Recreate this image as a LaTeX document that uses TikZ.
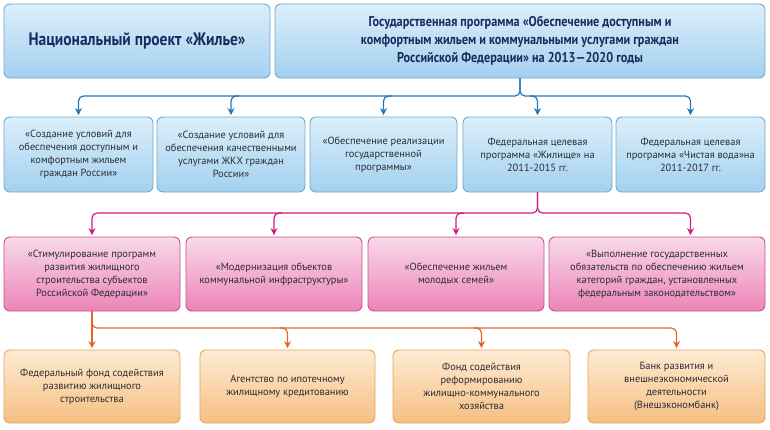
\documentclass[tikz,border=0pt]{standalone}
\usepackage{fontspec}
\setmainfont{PT Sans}
\newfontfamily\headfont[FakeStretch=0.86]{PT Sans}
\usetikzlibrary{arrows.meta,calc}
\definecolor{btop}{HTML}{DCEFFB}
\definecolor{bbot}{HTML}{A3D0EF}
\definecolor{bbord}{HTML}{6FA9CF}
\definecolor{ptop}{HTML}{F9D9EA}
\definecolor{pbot}{HTML}{EC84B7}
\definecolor{pbord}{HTML}{C8508F}
\definecolor{otop}{HTML}{FEEBD2}
\definecolor{obot}{HTML}{F6BF82}
\definecolor{obord}{HTML}{E2A55E}
\definecolor{navy}{HTML}{1B2A5E}
\definecolor{txt}{HTML}{2A2C34}
\definecolor{barblue}{HTML}{2377B8}
\definecolor{barmag}{HTML}{D21C84}
\definecolor{barora}{HTML}{E3642C}
\tikzset{
  box/.style={rounded corners=6pt, line width=0.9pt, align=center, inner sep=2pt,
    font=\fontsize{10.4}{13}\selectfont, text=txt},
  bluebox/.style={box, draw=bbord, top color=btop, bottom color=bbot},
  pinkbox/.style={box, draw=pbord, top color=ptop, bottom color=pbot},
  orabox/.style={box, draw=obord, top color=otop, bottom color=obot},
  conn/.style={line width=1.2pt, rounded corners=5pt, shorten >=1.5pt,
    -{Stealth[length=7pt,width=7pt]}},
  bconn/.style={conn, draw=barblue, color=barblue},
  mconn/.style={conn, draw=barmag, color=barmag},
  oconn/.style={conn, draw=barora, color=barora},
}
\begin{document}
\begin{tikzpicture}[x=1pt,y=-1pt]
\useasboundingbox (0,0) rectangle (770,429);
% top row
\node[bluebox, minimum width=266pt, minimum height=74pt, text=navy,
  font=\headfont\bfseries\fontsize{18}{20}\selectfont] (t1) at (137,41) {Национальный проект «Жилье»};
\node[bluebox, minimum width=490pt, minimum height=74pt, text=navy,
  font=\headfont\bfseries\fontsize{14.2}{18}\selectfont] (t2) at (520,41)
  {Государственная программа «Обеспечение доступным и\\комфортным жильем и коммунальными услугами граждан\\Российской Федерации» на 2013—2020 годы};
% second row
\node[bluebox, minimum width=149pt, minimum height=75pt] (b1) at (78.5,154.5)
  {«Создание условий для\\обеспечения доступным и\\комфортным жильем\\граждан России»};
\node[bluebox, minimum width=148pt, minimum height=75pt] (b2) at (231,154.5)
  {«Создание условий для\\обеспечения качественными\\услугами ЖКХ граждан\\России»};
\node[bluebox, minimum width=147pt, minimum height=75pt] (b3) at (383.5,154.5)
  {«Обеспечение реализации\\государственной\\программы»};
\node[bluebox, minimum width=149pt, minimum height=75pt] (b4) at (537.5,154.5)
  {Федеральная целевая\\программа «Жилище» на\\2011-2015 гг.};
\node[bluebox, minimum width=149pt, minimum height=75pt] (b5) at (690.5,154.5)
  {Федеральная целевая\\программа «Чистая вода»на\\2011-2017 гг.};
% third row
\node[pinkbox, minimum width=176pt, minimum height=74pt] (p1) at (92,274)
  {«Стимулирование программ\\развития жилищного\\строительства субъектов\\Российской Федерации»};
\node[pinkbox, minimum width=176pt, minimum height=74pt] (p2) at (274,274)
  {«Модернизация объектов\\коммунальной инфраструктуры»};
\node[pinkbox, minimum width=176pt, minimum height=74pt] (p3) at (456,274)
  {«Обеспечение жильем\\молодых семей»};
\node[pinkbox, minimum width=216pt, minimum height=74pt] (p4) at (657,274)
  {«Выполнение государственных\\обязательств по обеспечению жильем\\категорий граждан, установленных\\федеральным законодательством»};
% fourth row
\node[orabox, minimum width=176pt, minimum height=73pt] (o1) at (92,386.5)
  {Федеральный фонд содействия\\развитию жилищного\\строительства};
\node[orabox, minimum width=175pt, minimum height=73pt] (o2) at (287.5,386.5)
  {Агентство по ипотечному\\жилищному кредитованию};
\node[orabox, minimum width=177pt, minimum height=73pt] (o3) at (481.5,386.5)
  {Фонд содействия\\реформированию\\жилищно-коммунального\\хозяйства};
\node[orabox, minimum width=177pt, minimum height=73pt] (o4) at (676.5,386.5)
  {Банк развития и\\внешнеэкономической\\деятельности\\(Внешэкономбанк)};
% blue connectors
\coordinate (bj) at (520,96);
\draw[bconn] (t2.south) -- (bj) -| (b1.north);
\draw[bconn] (t2.south) -- (bj) -| (b5.north);
\draw[bconn] ($(b2.north |- bj)+(8,0)$) -| (b2.north);
\draw[bconn] ($(b3.north |- bj)+(8,0)$) -| (b3.north);
\draw[bconn] ($(b4.north |- bj)+(-8,0)$) -| (b4.north);
% magenta connectors
\coordinate (mj) at (537.5,213);
\draw[mconn] (b4.south) -- (mj) -| (p1.north);
\draw[mconn] (b4.south) -- (mj) -| (p4.north -| b5.north);
\draw[mconn] ($(p2.north |- mj)+(8,0)$) -| (p2.north);
\draw[mconn] ($(p3.north |- mj)+(8,0)$) -| (p3.north);
% orange connectors
\coordinate (oj) at (92,328);
\draw[oconn] (p1.south) -- (o1.north);
\draw[oconn] (p1.south) |- ($(oj)+(30,0)$) -| (o4.north);
\draw[oconn] ($(o2.north |- oj)+(-8,0)$) -| (o2.north);
\draw[oconn] ($(o3.north |- oj)+(-8,0)$) -| (o3.north);
\end{tikzpicture}
\end{document}
